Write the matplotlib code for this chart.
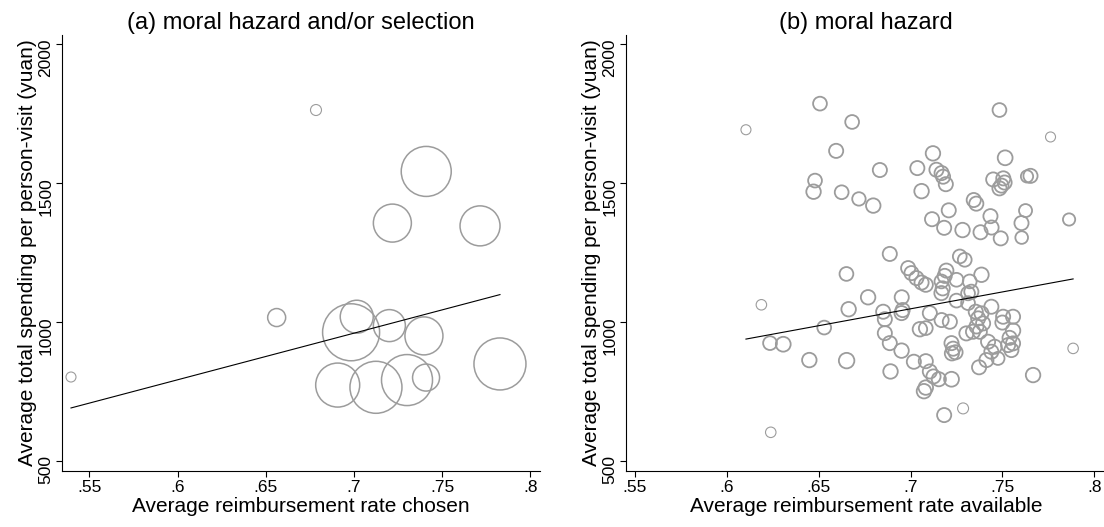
import matplotlib
matplotlib.use("Agg")
import matplotlib.pyplot as plt
import numpy as np

plt.rcParams["font.family"] = ["Liberation Sans", "DejaVu Sans"]

# (a) chosen reimbursement rate, one bubble per plan; weight ~ bubble area
chosen_rate = [0.6785, 0.7410, 0.7218, 0.7715, 0.5396, 0.6562, 0.7016, 0.6984,
               0.7201, 0.7397, 0.7828, 0.6908, 0.7125, 0.7301, 0.7409]
chosen_spend = [1764, 1543, 1357, 1347, 803, 1017, 1020, 964,
                988, 951, 850, 774, 766, 792, 801]
chosen_weight = [121, 2500, 1444, 1600, 100, 324, 1089, 3249,
                 1024, 1444, 2704, 1936, 2704, 2601, 729]
chosen_fit = (-213.6, 1677.6)  # intercept, slope

# (b) available reimbursement rate
available_rate = [
    0.6507, 0.7484, 0.6682, 0.6104, 0.7762, 0.6595, 0.7122, 0.7515, 0.6833, 0.7037,
    0.7141, 0.7169, 0.7177, 0.7192, 0.7060, 0.6480, 0.6472, 0.6625, 0.6719, 0.6797,
    0.7344, 0.7358, 0.7208, 0.7117, 0.7183, 0.7283, 0.7381, 0.7435, 0.7441, 0.7491,
    0.7450, 0.7505, 0.7512, 0.7495, 0.7484, 0.7653, 0.7634, 0.7626, 0.7604, 0.7605,
    0.7863, 0.6887, 0.6651, 0.6987, 0.7005, 0.7032, 0.7060, 0.7083, 0.7268, 0.7295,
    0.7195, 0.7186, 0.7168, 0.7168, 0.7250, 0.7322, 0.7386, 0.7331, 0.6769, 0.6952,
    0.6188, 0.6663, 0.6851, 0.6860, 0.6860, 0.6887, 0.6951, 0.6957, 0.6951, 0.7105,
    0.7169, 0.7214, 0.7051, 0.7083, 0.6530, 0.6235, 0.6307, 0.6449, 0.6652, 0.7018,
    0.7083, 0.7105, 0.7125, 0.7154, 0.7083, 0.7073, 0.6891, 0.7223, 0.7223, 0.7232,
    0.7225, 0.7245, 0.7373, 0.7667, 0.7885, 0.7286, 0.7183, 0.6239, 0.7250, 0.7313,
    0.7313, 0.7355, 0.7386, 0.7368, 0.7395, 0.7359, 0.7340, 0.7304, 0.7377, 0.7440,
    0.7504, 0.7558, 0.7500, 0.7558, 0.7422, 0.7458, 0.7440, 0.7476, 0.7531, 0.7549,
    0.7558, 0.7413, 0.7175, 0.7539,
]
available_spend = [
    1787, 1764, 1721, 1693, 1667, 1617, 1608, 1592, 1548, 1555,
    1549, 1537, 1524, 1497, 1472, 1510, 1470, 1468, 1444, 1420,
    1440, 1427, 1403, 1371, 1340, 1332, 1324, 1382, 1341, 1302,
    1514, 1518, 1503, 1492, 1482, 1527, 1525, 1402, 1357, 1305,
    1370, 1246, 1174, 1195, 1177, 1159, 1143, 1135, 1237, 1225,
    1186, 1167, 1147, 1105, 1153, 1147, 1171, 1110, 1090, 1090,
    1063, 1047, 1038, 1011, 961, 925, 898, 1044, 1033, 1033,
    1008, 1002, 975, 979, 981, 925, 921, 864, 862, 858,
    860, 823, 805, 795, 765, 752, 823, 795, 925, 905,
    888, 892, 838, 810, 906, 690, 666, 604, 1078, 1104,
    1069, 1038, 1032, 1014, 996, 985, 966, 960, 966, 1056,
    1020, 1020, 999, 970, 930, 912, 894, 870, 918, 900,
    924, 864, 1122, 944,
]
available_weight = [
    190, 190, 190, 100, 100, 200, 210, 220, 200, 200,
    200, 200, 200, 200, 210, 190, 210, 190, 180, 210,
    200, 200, 200, 200, 200, 210, 200, 200, 200, 200,
    200, 200, 200, 200, 200, 200, 150, 170, 200, 160,
    150, 200, 190, 200, 200, 200, 200, 200, 190, 190,
    200, 200, 190, 200, 190, 190, 210, 200, 210, 200,
    110, 210, 200, 200, 200, 200, 210, 200, 200, 200,
    200, 200, 210, 190, 190, 190, 220, 210, 240, 200,
    200, 200, 200, 200, 210, 210, 210, 220, 200, 200,
    200, 200, 200, 210, 110, 120, 200, 110, 190, 190,
    190, 200, 200, 200, 200, 200, 200, 200, 200, 200,
    200, 200, 200, 210, 200, 200, 200, 170, 200, 200,
    200, 200, 200, 200,
]
available_fit = (197.6, 1215.5)

x_ticks = [0.55, 0.6, 0.65, 0.7, 0.75, 0.8]
x_tick_labels = [".55", ".6", ".65", ".7", ".75", ".8"]
y_ticks = [500, 1000, 1500, 2000]
y_label = "Average total spending per person-visit (yuan)"

PX = 0.72  # points per pixel at dpi 100
MARKER_GRAY = "#9c9c9c"
W, H = 1104, 527


def draw_panel(ax, rate, spend, weight, fit, title, xlabel, xlim, thick, thin):
    rate = np.asarray(rate)
    spend = np.asarray(spend)
    weight = np.asarray(weight, dtype=float)
    widths = np.where(weight > 140, thick, thin)
    ax.scatter(rate, spend, s=weight * PX ** 2, facecolors="none",
               edgecolors=MARKER_GRAY, linewidths=widths, zorder=2)
    xs = np.array([rate.min(), rate.max()])
    ax.plot(xs, fit[0] + fit[1] * xs, color="black", lw=0.8, zorder=3)

    ax.set_xlim(*xlim)
    ax.set_ylim(465.8, 2034)
    ax.set_xticks(x_ticks)
    ax.set_xticklabels(x_tick_labels)
    ax.set_yticks(y_ticks)
    for side in ("top", "right"):
        ax.spines[side].set_visible(False)
    for side in ("left", "bottom"):
        ax.spines[side].set_linewidth(0.8)
    ax.tick_params(direction="out", length=4.3, width=0.8, labelsize=12.5)
    ax.tick_params(axis="x", pad=2.5)
    ax.tick_params(axis="y", labelrotation=90, pad=2)
    ax.set_title(title, fontsize=17, pad=4)
    ax.set_xlabel(xlabel, fontsize=15, labelpad=1)
    ax.set_ylabel(y_label, fontsize=15, labelpad=1)


fig = plt.figure(figsize=(W / 100, H / 100), dpi=100)
bottom = (H - 470.7) / H
height = (470.7 - 35) / H
ax1 = fig.add_axes([62 / W, bottom, (540 - 62) / W, height])
ax2 = fig.add_axes([626 / W, bottom, (1106 - 626) / W, height])

draw_panel(ax1, chosen_rate, chosen_spend, chosen_weight, chosen_fit,
           "(a) moral hazard and/or selection", "Average reimbursement rate chosen",
           (0.5345, 0.8055), 1.1, 0.8)
draw_panel(ax2, available_rate, available_spend, available_weight, available_fit,
           "(b) moral hazard", "Average reimbursement rate available",
           (0.5451, 0.8064), 1.3, 0.8)

fig.savefig("out.png", dpi=100)
